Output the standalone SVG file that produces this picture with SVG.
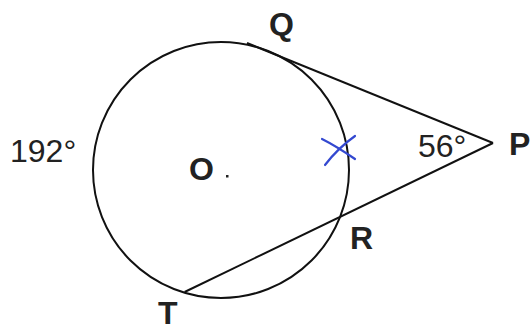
<svg xmlns="http://www.w3.org/2000/svg" width="531" height="331" viewBox="0 0 531 331">
<style>
.ln{fill:none;stroke:#111;stroke-width:2}
.pt{font-family:"Liberation Sans",Arial,sans-serif;font-weight:bold;font-size:32px;fill:#222}
.num{font-family:"Liberation Sans",Arial,sans-serif;font-size:32px;fill:#222}
.mark{fill:none;stroke:#3348d0;stroke-width:2.2;stroke-linecap:round}
</style>
<rect width="531" height="331" fill="#fff"/>
<g id="circle-O">
<circle class="ln" cx="221" cy="170" r="128"/>
<rect x="226" y="175" width="2.5" height="2.5" fill="#222"/>
<text class="pt" x="189" y="180" font-size="30">O</text>
</g>
<g id="connectors">
<line id="PQ" class="ln" x1="493" y1="143" x2="247" y2="43"/>
<line id="PT" class="ln" x1="493" y1="143" x2="184.6" y2="292"/>
</g>
<g id="point-Q"><text class="pt" x="269" y="35">Q</text></g>
<g id="point-P"><text class="pt" x="509" y="155">P</text></g>
<g id="point-R"><text class="pt" x="350" y="249">R</text></g>
<g id="point-T"><text class="pt" x="158" y="324" font-size="28">T</text></g>
<g id="arc-label"><text class="num" x="10" y="162">192°</text></g>
<g id="angle-label"><text class="num" x="418" y="157">56°</text></g>
<g id="blue-mark">
<path class="mark" d="M322 139 Q336 146 355 159"/>
<path class="mark" d="M325 165 Q338 148 355 136"/>
</g>
</svg>
